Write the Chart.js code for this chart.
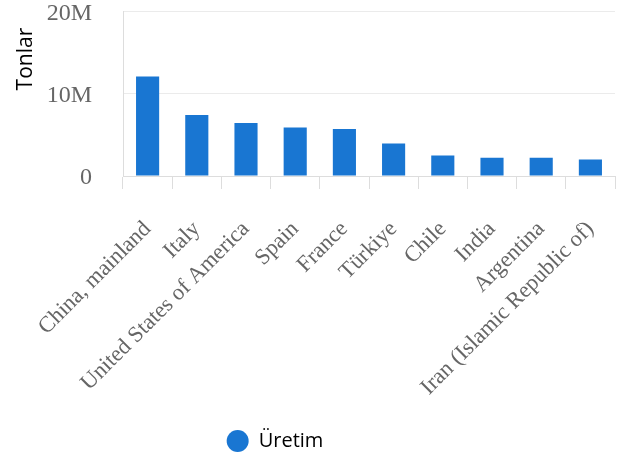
<!DOCTYPE html>
<html>
<head>
<meta charset="utf-8">
<script src="https://cdn.jsdelivr.net/npm/chart.js@4.4.1/dist/chart.umd.min.js"></script>
<style>
  html, body { margin: 0; padding: 0; background: #fff; }
  #wrap { width: 624px; height: 461px; }
</style>
</head>
<body>
<div id="wrap"><canvas id="chart1"></canvas></div>
<script>
  var ulkeler = [
    'China, mainland', 'Italy', 'United States of America', 'Spain', 'France',
    'Türkiye', 'Chile', 'India', 'Argentina', 'Iran (Islamic Republic of)'
  ]
  var uretim = [12100000, 7400000, 6430000, 5900000, 5700000, 3950000, 2480000, 2230000, 2230000, 1990000]
  var yTicks = [0, 10000000, 20000000]

  // legend'i biraz sola kaydir
  const legendKaydir = {
    id: 'legendKaydir',
    afterLayout(chart) {
      chart.legend.right = chart.legend.left + chart.width - 74
    }
  }

  const data = {
    labels: ulkeler,
    datasets: [{
      label: 'Üretim',
      data: uretim,
      backgroundColor: '#1976d2',
      borderWidth: 0,
      categoryPercentage: 1,
      barPercentage: 0.47
    }]
  }

  const config = {
    type: 'bar',
    data,
    options: {
      responsive: true,
      maintainAspectRatio: false,
      animation: false,
      layout: { padding: { left: 0, right: 9, top: 0, bottom: 0 } },
      plugins: {
        legend: {
          position: 'bottom',
          labels: {
            usePointStyle: true,
            pointStyle: 'circle',
            boxHeight: 15.5,
            pointStyleWidth: 22,
            color: '#000',
            font: { family: '"Open Sans", sans-serif', size: 20 }
          }
        },
        tooltip: { enabled: false }
      },
      scales: {
        x: {
          grid: { drawOnChartArea: false, tickLength: 13, color: '#dddddd' },
          border: { color: '#dddddd' },
          ticks: {
            autoSkip: false,
            minRotation: 45,
            maxRotation: 45,
            padding: 27,
            color: '#666',
            font: { family: '"Liberation Serif", "Times New Roman", serif', size: 22.5 }
          },
          afterFit: function (scale) {
            scale.height = 245
            scale.paddingRight = 0
            scale.paddingLeft = 0
          }
        },
        y: {
          min: 0,
          max: 20000000,
          afterBuildTicks: function (scale) {
            scale.ticks = yTicks.map(function (v) { return { value: v } })
          },
          grid: { drawTicks: true, tickLength: 31, tickColor: 'rgba(0,0,0,0)', color: '#ebebeb' },
          border: { color: '#dddddd' },
          ticks: {
            padding: 0,
            labelOffset: 2,
            color: '#666',
            font: { family: '"Liberation Serif", "Times New Roman", serif', size: 24, lineHeight: 0.95 },
            callback: function (v) { return v === 0 ? '0' : (v / 1000000) + 'M' }
          },
          title: {
            display: true,
            text: 'Tonlar   ',
            align: 'end',
            color: '#000',
            padding: { top: 13, bottom: 0 },
            font: { family: '"Open Sans", sans-serif', size: 21 }
          },
          afterFit: function (scale) { scale.width = 123 }
        }
      }
    },
    plugins: [legendKaydir]
  }

  const myChart = new Chart(document.getElementById('chart1'), config)
</script>
</body>
</html>
